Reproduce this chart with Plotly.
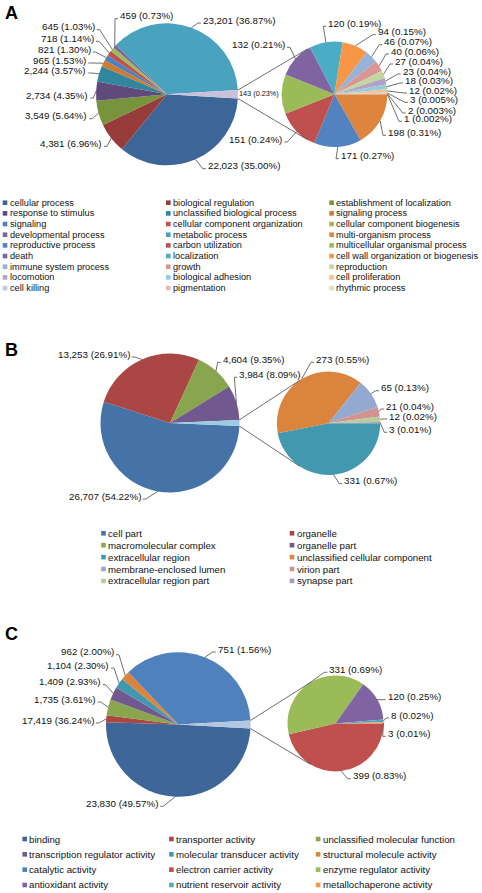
import math
import plotly.graph_objects as go

W, H = 482, 893
FONT = "Liberation Sans, Arial, sans-serif"

# ---------------- DATA ----------------
# Panel A : biological process
a_main_cats = ["cellular process", "biological regulation", "establishment of localization",
               "response to stimulus", "unclassified biological process", "signaling process",
               "signaling", "cellular component organization", "cellular component biogenesis",
               "developmental process", "metabolic process"]
a_main_vals = [22023, 4381, 3549, 2734, 2244, 965, 821, 718, 645, 459, 23201]
a_main_text = ["22,023 (35.00%)", "4,381 (6.96%)", "3,549 (5.64%)", "2,734 (4.35%)",
               "2,244 (3.57%)", "965 (1.53%)", "821 (1.30%)", "718 (1.14%)", "645 (1.03%)",
               "459 (0.73%)", "23,201 (36.87%)"]
a_sec_cats = ["multi-organism process", "reproductive process", "carbon utilization",
              "multicellular organismal process", "death", "localization",
              "cell wall organization or biogenesis", "immune system process", "growth",
              "reproduction", "locomotion", "biological adhesion", "cell proliferation",
              "cell killing", "pigmentation", "rhythmic process"]
a_sec_vals = [198, 171, 151, 143, 132, 120, 94, 46, 40, 27, 23, 18, 12, 3, 2, 1]
a_sec_text = ["198 (0.31%)", "171 (0.27%)", "151 (0.24%)", "143 (0.23%)", "132 (0.21%)",
              "120 (0.19%)", "94 (0.15%)", "46 (0.07%)", "40 (0.06%)", "27 (0.04%)",
              "23 (0.04%)", "18 (0.03%)", "12 (0.02%)", "3 (0.005%)", "2 (0.003%)",
              "1 (0.002%)"]

# Panel B : cellular component
b_main_cats = ["cell part", "organelle", "macromolecular complex", "organelle part"]
b_main_vals = [26707, 13253, 4604, 3984]
b_main_text = ["26,707 (54.22%)", "13,253 (26.91%)", "4,604 (9.35%)", "3,984 (8.09%)"]
b_sec_cats = ["extracellular region", "unclassified cellular component",
              "membrane-enclosed lumen", "virion part", "extracellular region part",
              "synapse part"]
b_sec_vals = [331, 273, 65, 21, 12, 3]
b_sec_text = ["331 (0.67%)", "273 (0.55%)", "65 (0.13%)", "21 (0.04%)", "12 (0.02%)",
              "3 (0.01%)"]

# Panel C : molecular function (slice sizes as drawn; label texts as printed)
c_main_cats = ["binding", "transporter activity", "unclassified molecular function",
               "transcription regulator activity", "molecular transducer activity",
               "structural molecule activity", "catalytic activity"]
c_main_vals = [23830, 751, 1735, 1409, 1104, 962, 17419]
c_main_text = ["23,830 (49.57%)", "17,419 (36.24%)", "1,735 (3.61%)", "1,409 (2.93%)",
               "1,104 (2.30%)", "962 (2.00%)", "751 (1.56%)"]
c_sec_cats = ["electron carrier activity", "enzyme regulator activity", "antioxidant activity",
              "nutrient reservoir activity", "metallochaperone activity"]
c_sec_vals = [399, 331, 120, 8, 3]
c_sec_text = ["399 (0.83%)", "331 (0.69%)", "120 (0.25%)", "8 (0.02%)", "3 (0.01%)"]

# ---------------- STYLES / LAYOUT ----------------
a_main_cols = ["#3D6698", "#963C3A", "#77933C", "#5F4A7B", "#31859C", "#CF7A33",
               "#4F81BD", "#C0504D", "#9BBB59", "#8064A2", "#4AA3BE"]
a_sec_cols = ["#DD853E", "#5283C0", "#C0504D", "#9BBB59", "#8064A2", "#4BACC6",
              "#F79646", "#95B3D7", "#D99694", "#C3D69B", "#B3A2C7", "#93CDDD",
              "#FAC090", "#B9CDE5", "#E6B9B8", "#D7E4BD"]
a_other_col = "#CBC0DC"
b_main_cols = ["#4572A7", "#AA4643", "#89A54E", "#71588F"]
b_sec_cols = ["#4198AF", "#DB843D", "#93A9CF", "#D19392", "#B9CD96", "#A99BBD"]
b_other_col = "#9BCCE0"
c_main_cols = ["#3F6699", "#AA4643", "#89A54E", "#71588F", "#4198AF", "#DB843D", "#4F81BD"]
c_sec_cols = ["#C0504D", "#9BBB59", "#8064A2", "#4BACC6", "#F79646"]
c_other_col = "#B4C7E2"

# pie geometry in pixels: centre and radius
A_MAIN = ((167.0, 94.3), 71.0)
A_SEC = ((334.5, 94.3), 52.8)
B_MAIN = ((170.0, 423.0), 69.5)
B_SEC = ((328.5, 423.3), 51.7)
C_MAIN = ((178.3, 724.5), 72.3)
C_SEC = ((335.5, 723.4), 48.0)

# label placements: (side, x, y) ; side 'l' = text starts at x, 'r' = text ends at x
a_main_pos = [("l", 206.7, 165.7), ("r", 103, 143.3), ("r", 88.3, 115.7), ("r", 89.3, 95),
              ("r", 87.3, 70), ("r", 87.3, 60), ("r", 91.7, 49), ("r", 95, 38.3),
              ("r", 95.7, 26.7), ("l", 119, 15.7), ("l", 202, 20)]
a_sec_pos = [("l", 387, 132.3), ("l", 340, 155.7), ("r", 283.3, 139), None,
             ("r", 286, 44.3), ("l", 327.3, 23.3), ("l", 376.7, 31.7), ("l", 383.3, 41.7),
             ("l", 390, 51), ("l", 394, 61), ("l", 401.7, 71), ("l", 404, 80),
             ("l", 408, 90), ("l", 409, 99.3), ("l", 406.7, 110), ("l", 403, 118.3)]
a_free_label = (3, 238.3, 93.3)  # index in a_sec_text drawn without leader, small
b_main_pos = [("r", 141.7, 496), ("r", 130.7, 354), ("l", 221.7, 359.3), ("l", 238.3, 374.3)]
b_sec_pos = [("l", 343.3, 480.7), ("l", 315, 359.3), ("l", 380, 387.7), ("l", 385, 406),
             ("l", 388.3, 416), ("l", 388.3, 429.3)]
c_main_pos = [("r", 159.3, 803.3), ("r", 95, 720), ("r", 96.7, 699), ("r", 101.7, 681.7),
              ("r", 110, 665), ("r", 115, 651.7), ("l", 216.7, 649)]
c_sec_pos = [("l", 351.7, 775.7), ("l", 328.3, 669.3), ("l", 386.7, 696.7), ("l", 390, 715),
             ("l", 386.7, 733.3)]

LABEL_SIZE = 9.8
LINE_COL = "#4a4a4a"

fig = go.Figure()
shapes = []
annotations = []


def domain(c, r):
    (cx, cy) = c
    return dict(x=[(cx - r) / W, (cx + r) / W], y=[1 - (cy + r) / H, 1 - (cy - r) / H])


def on_circle(c, r, ang):
    a = math.radians(ang)
    return (c[0] + r * math.sin(a), c[1] - r * math.cos(a))


def mid_angles(vals, rot):
    tot = float(sum(vals))
    out, cum = [], 0.0
    for v in vals:
        out.append(rot + (cum + v / 2.0) / tot * 360.0)
        cum += v
    return out


def add_label(text, pos, anchor_pt, size=LABEL_SIZE):
    side, x, y = pos
    annotations.append(dict(x=x, y=y, xref="x", yref="y", text=text, showarrow=False,
                            xanchor="left" if side == "l" else "right", yanchor="middle",
                            font=dict(family=FONT, size=size, color="#111111"),
                            borderpad=0))
    ex = x - 1 if side == "l" else x + 1
    ey = y + 3
    d = 1 if anchor_pt[0] > ex else -1
    tx = ex + 3 * d
    shapes.append(dict(type="path", xref="x", yref="y", layer="above",
                       path=f"M{ex:.2f},{ey:.2f} L{tx:.2f},{ey:.2f} L{anchor_pt[0]:.2f},{anchor_pt[1]:.2f}",
                       line=dict(color=LINE_COL, width=0.8)))


def tangent(p, c, r, upper):
    dx, dy = p[0] - c[0], p[1] - c[1]
    d = math.hypot(dx, dy)
    base = math.atan2(dy, dx)
    alpha = math.acos(r / d)
    cands = [base + alpha, base - alpha]
    pts = [(c[0] + r * math.cos(a), c[1] + r * math.sin(a)) for a in cands]
    pts.sort(key=lambda q: q[1])
    return pts[0] if upper else pts[1]


def panel(main_vals, main_cols, other_col, sec_vals, sec_cols, geo_main, geo_sec,
          main_text, main_pos, sec_text, sec_pos):
    (mc, mr), (sc, sr) = geo_main, geo_sec
    other = sum(sec_vals)
    vals = list(main_vals) + [other]
    f = other / float(sum(vals))
    rot_main = 90.0 + f * 180.0
    rot_sec = 90.0
    fig.add_trace(go.Pie(values=vals, sort=False, direction="clockwise", rotation=rot_main,
                         marker=dict(colors=list(main_cols) + [other_col], line=dict(width=0)),
                         domain=domain(mc, mr), textinfo="none", hoverinfo="skip",
                         showlegend=False))
    fig.add_trace(go.Pie(values=list(sec_vals), sort=False, direction="clockwise",
                         rotation=rot_sec,
                         marker=dict(colors=list(sec_cols), line=dict(width=0)),
                         domain=domain(sc, sr), textinfo="none", hoverinfo="skip",
                         showlegend=False))
    # series (connector) lines from the "other" wedge corners, tangent to the second pie
    top_corner = on_circle(mc, mr, 90.0 - f * 180.0)
    bot_corner = on_circle(mc, mr, 90.0 + f * 180.0)
    for corner, up in ((top_corner, True), (bot_corner, False)):
        t = tangent(corner, sc, sr, up)
        shapes.append(dict(type="line", xref="x", yref="y", layer="above",
                           x0=corner[0], y0=corner[1], x1=t[0], y1=t[1],
                           line=dict(color=LINE_COL, width=0.8)))
    # data labels with leader lines
    for txt, pos, ang in zip(main_text, main_pos, mid_angles(vals[:-1] + [other], rot_main)):
        if pos is not None:
            add_label(txt, pos, on_circle(mc, mr, ang))
    for txt, pos, ang in zip(sec_text, sec_pos, mid_angles(sec_vals, rot_sec)):
        if pos is not None:
            add_label(txt, pos, on_circle(sc, sr, ang))


panel(a_main_vals, a_main_cols, a_other_col, a_sec_vals, a_sec_cols, A_MAIN, A_SEC,
      a_main_text, a_main_pos, a_sec_text, a_sec_pos)
panel(b_main_vals, b_main_cols, b_other_col, b_sec_vals, b_sec_cols, B_MAIN, B_SEC,
      b_main_text, b_main_pos, b_sec_text, b_sec_pos)
panel(c_main_vals, c_main_cols, c_other_col, c_sec_vals, c_sec_cols, C_MAIN, C_SEC,
      c_main_text, c_main_pos, c_sec_text, c_sec_pos)

# label of the "other" slice printed between the pies (no leader)
idx, fx, fy = a_free_label
annotations.append(dict(x=fx, y=fy, xref="x", yref="y", text=a_sec_text[idx], showarrow=False,
                        xanchor="left", yanchor="middle", borderpad=0,
                        font=dict(family=FONT, size=7.3, color="#111111")))


# ---------------- legends (grid, row-major) ----------------
def grid_legend(cats, cols, ncol, x0, dx, y0, dy, size):
    xs, ys = [], []
    for i, name in enumerate(cats):
        col, row = i % ncol, i // ncol
        x, y = x0 + col * dx, y0 + row * dy
        xs.append(x)
        ys.append(y)
        annotations.append(dict(x=x + 3.6, y=y, xref="x", yref="y", text=name,
                                showarrow=False, xanchor="left", yanchor="middle",
                                borderpad=0,
                                font=dict(family=FONT, size=size, color="#111111")))
    fig.add_trace(go.Scatter(x=xs, y=ys, mode="markers", hoverinfo="skip", showlegend=False,
                             marker=dict(symbol="square", size=4.6, color=list(cols),
                                         line=dict(width=0))))


grid_legend(a_main_cats + a_sec_cats, a_main_cols + a_sec_cols, 3, 5.0, 163.3, 202.7, 10.67, 9.2)
grid_legend(b_main_cats + b_sec_cats, b_main_cols + b_sec_cols, 2, 103.5, 188.5, 533.3, 11.9, 9.7)
grid_legend(c_main_cats + c_sec_cats, c_main_cols + c_sec_cols, 3, 24.7, 146.7, 839.0, 15.33, 9.7)

# panel letters
for letter, yc in (("A", 13.3), ("B", 349.5), ("C", 633.7)):
    annotations.append(dict(x=3.5, y=yc, xref="x", yref="y", text=f"<b>{letter}</b>",
                            showarrow=False, xanchor="left", yanchor="middle", borderpad=0,
                            font=dict(family=FONT, size=18, color="#000000")))

fig.update_layout(
    width=W, height=H, autosize=False,
    margin=dict(l=0, r=0, t=0, b=0, pad=0),
    paper_bgcolor="white", plot_bgcolor="white",
    showlegend=False,
    xaxis=dict(range=[0, W], visible=False, fixedrange=True, domain=[0, 1]),
    yaxis=dict(range=[H, 0], visible=False, fixedrange=True, domain=[0, 1]),
    shapes=shapes, annotations=annotations,
)

fig.write_html("out.html", config=dict(displayModeBar=False),
               post_script="document.body.style.margin='0px';document.body.style.overflow='hidden';")
